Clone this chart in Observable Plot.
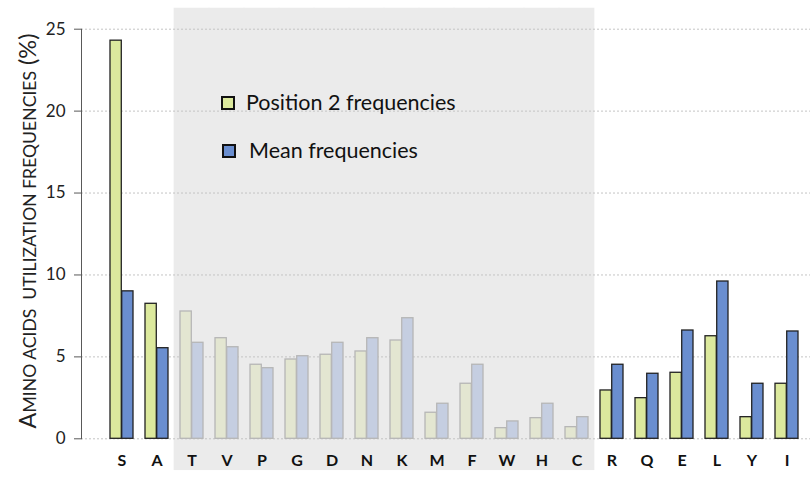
<!DOCTYPE html>
<html>
<head>
<meta charset="utf-8">
<script src="https://cdn.jsdelivr.net/npm/d3@7"></script>
<script src="https://cdn.jsdelivr.net/npm/@observablehq/plot@0.6"></script>
<style>
  html, body { margin: 0; padding: 0; background: #fff; }
  #wrap { position: relative; width: 810px; height: 480px; font-family: Lato, "Open Sans", sans-serif; }
  #ytitle { position: absolute; left: 28px; top: 231px; transform: translate(-50%, -50%) rotate(-90deg);
    white-space: pre; font-size: 23.5px; color: #222; line-height: 1; }
  #ytitle .sc { font-size: 17.6px; }
  .leg { position: absolute; display: flex; align-items: center; font-size: 21.5px; color: #111; white-space: nowrap; line-height: 1; }
  .sw { width: 10px; height: 10px; border: 2px solid #111; margin-right: 11px; }
</style>
</head>
<body>
<div id="wrap">
  <div id="chart"></div>
  <div id="ytitle">A<span class="sc">MINO ACIDS  UTILIZATION FREQUENCIES</span> (%)</div>
  <div class="leg" style="left:221px; top:92px;"><div class="sw" style="background:#dce99d"></div>Position 2 frequencies</div>
  <div class="leg" style="left:222px; top:140px;"><div class="sw" style="background:#6a8ecf; margin-right:13px"></div>Mean frequencies</div>
</div>
<script>
const aminoAcids = ["S","A","T","V","P","G","D","N","K","M","F","W","H","C","R","Q","E","L","Y","I"];
const position2 = [24.3, 8.24, 7.77, 6.14, 4.52, 4.84, 5.13, 5.33, 6.0, 1.59, 3.36, 0.65, 1.26, 0.71, 2.95, 2.48, 4.03, 6.26, 1.32, 3.36];
const meanFreq  = [9.0, 5.53, 5.86, 5.59, 4.31, 5.04, 5.86, 6.14, 7.36, 2.14, 4.52, 1.06, 2.14, 1.32, 4.52, 3.97, 6.61, 9.6, 3.36, 6.55];
const shadedAAs = ["T","V","P","G","D","N","K","M","F","W","H","C"];
const shadeExtent = [-1.94, 26.28];
const yTicks = [0, 5, 10, 15, 20, 25];

const rows = aminoAcids.map((a, i) => ({aa: a, pos2: position2[i], mean: meanFreq[i], shaded: shadedAAs.includes(a)}));

const xRange = [102.5, 804.9];
const padIn = 0.333, padOut = 0.1667;
const step = (xRange[1] - xRange[0]) / (aminoAcids.length - padIn + 2 * padOut);
const bw = step * (1 - padIn);
const half = bw / 2;
const gap = step * padIn / 2;

const chart = Plot.plot({
  width: 810,
  height: 480,
  marginLeft: 81,
  marginRight: 0,
  marginTop: 28.7,
  marginBottom: 41.7,
  style: {fontFamily: "Lato, 'Open Sans', sans-serif", background: "transparent"},
  x: {domain: aminoAcids, range: xRange, paddingInner: padIn, paddingOuter: padOut, axis: null},
  y: {domain: [0, 25], axis: null},
  marks: [
    Plot.barY(shadedAAs.map(a => ({aa: a})), {x: "aa", y1: () => shadeExtent[0], y2: () => shadeExtent[1], fill: "#ebebeb", insetLeft: -gap - 0.5, insetRight: -gap - 0.5}),
    Plot.ruleY(yTicks, {stroke: "#c4c4c4", strokeDasharray: "2,2", strokeWidth: 1}),
    Plot.barY(rows, {x: "aa", y: "pos2", insetRight: half,
      fill: d => d.shaded ? "#e3e6d1" : "#dce99d",
      stroke: d => d.shaded ? "#b6b6b6" : "#222", strokeWidth: 1.3}),
    Plot.barY(rows, {x: "aa", y: "mean", insetLeft: half,
      fill: d => d.shaded ? "#c5cee1" : "#6a8ecf",
      stroke: d => d.shaded ? "#b6b6b6" : "#222", strokeWidth: 1.3}),
    Plot.axisX({tickSize: 0, tickPadding: 16, fontWeight: "bold", fontSize: 16, color: "#111", label: null}),
    Plot.axisY({ticks: yTicks, tickSize: 7, tickPadding: 9, fontSize: 17, color: "#222", stroke: "#595959", label: null}),
    Plot.frame({anchor: "left", stroke: "#595959"})
  ]
});
document.getElementById("chart").appendChild(chart);
</script>
</body>
</html>
